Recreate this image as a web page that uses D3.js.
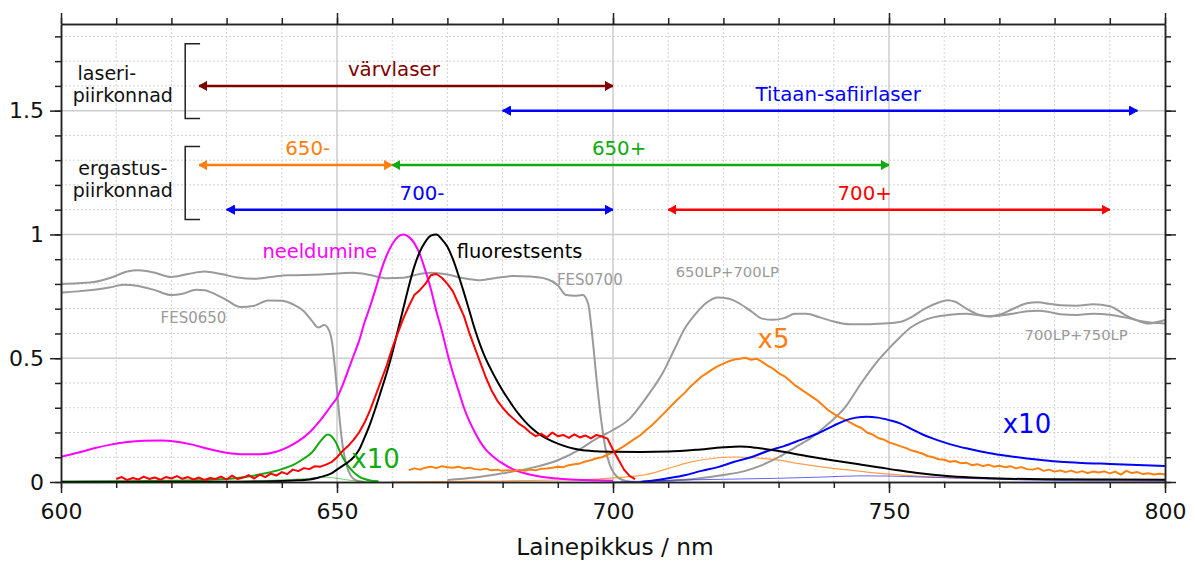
<!DOCTYPE html>
<html>
<head>
<meta charset="utf-8">
<script src="https://cdn.jsdelivr.net/npm/d3@7"></script>
<style>
  body { margin: 0; background: #fff; }
  text { font-family: "DejaVu Sans", sans-serif; }
</style>
</head>
<body>
<svg id="chart" width="1195" height="561"></svg>
<script>
// ---- data: [wavelength nm, value] ----
const fes0700 = [[600,0.8],[603,0.803],[606,0.808],[609,0.825],[612,0.85],[614,0.855],[617,0.845],[620,0.828],[623,0.84],[626,0.85],[629,0.84],[632,0.826],[635,0.821],[638,0.828],[641,0.835],[644,0.836],[647,0.838],[650,0.842],[653,0.845],[656,0.836],[659,0.823],[662,0.825],[665,0.84],[667,0.845],[670,0.838],[673,0.823],[676,0.815],[679,0.825],[682,0.832],[685,0.83],[688,0.82],[690,0.795],[691.5,0.755],[693,0.752],[694.5,0.755],[695.5,0.72],[696.2,0.6],[697,0.42],[697.8,0.26],[698.6,0.14],[699.4,0.07],[700.2,0.035],[701.5,0.01],[703,0.002],[705,0]];
const fes0650 = [[600,0.765],[603,0.77],[606,0.777],[609,0.787],[611.5,0.797],[614,0.792],[617,0.775],[620,0.755],[622,0.76],[624.5,0.777],[626,0.775],[628,0.758],[630,0.735],[632.5,0.707],[635,0.712],[637.5,0.733],[640,0.732],[642,0.718],[644,0.69],[645.5,0.65],[646.6,0.624],[647.7,0.634],[648.6,0.61],[649.2,0.55],[649.8,0.42],[650.4,0.27],[651,0.15],[651.7,0.07],[652.5,0.025],[653.5,0.006],[655,0]];
const lp650_700 = [[670,0.008],[675,0.018],[680,0.035],[685,0.056],[690,0.088],[694,0.132],[697,0.175],[700,0.21],[703,0.255],[706,0.34],[709,0.44],[711,0.53],[713,0.62],[715,0.68],[717,0.725],[719,0.745],[721,0.74],[723,0.72],[725,0.69],[727,0.66],[729,0.655],[731,0.662],[733,0.68],[735,0.68],[737.5,0.665],[740,0.648],[743,0.637],[746,0.637],[749,0.64],[752,0.646],[754,0.665],[756.5,0.7],[759,0.725],[760.5,0.734],[762,0.728],[764,0.7],[766,0.678],[768,0.67],[770,0.676],[772.5,0.7],[775,0.722],[777,0.726],[779,0.72],[781,0.714],[784,0.712],[787,0.718],[790,0.71],[793,0.672],[795,0.652],[797,0.64],[799,0.648],[800,0.655]];
const lp700_750 = [[705,0],[710,0.005],[715,0.013],[720,0.028],[724,0.045],[727,0.068],[730,0.1],[733,0.14],[736,0.18],[739,0.235],[742,0.3],[745,0.4],[748,0.49],[750,0.54],[752,0.585],[754,0.625],[756,0.65],[758,0.665],[761,0.676],[764,0.68],[766,0.675],[768,0.669],[770,0.672],[772.5,0.68],[775,0.69],[777,0.692],[779,0.687],[781,0.678],[784,0.675],[787,0.68],[790,0.676],[793,0.664],[796,0.648],[800,0.64]];

const absorption = [[600,0.102],[603,0.118],[606,0.136],[609,0.151],[612,0.162],[615,0.167],[618,0.168],[621,0.163],[624,0.15],[627,0.132],[630,0.118],[633,0.112],[636,0.112],[639,0.122],[641,0.14],[643,0.165],[645,0.2],[647,0.25],[649,0.31],[650,0.34],[651,0.39],[652,0.45],[653,0.51],[654,0.57],[655,0.645],[656,0.71],[657,0.78],[658,0.855],[659,0.915],[660,0.96],[661,0.99],[662,1.0],[663,0.99],[664,0.965],[665,0.92],[666,0.855],[667,0.78],[668,0.69],[669,0.61],[670,0.52],[671,0.44],[672,0.37],[673,0.3],[674,0.245],[675,0.2],[676,0.16],[677,0.13],[678,0.108],[679,0.09],[680,0.075],[682,0.05],[684,0.035],[686,0.025],[688,0.018],[691,0.012],[695,0.008],[700,0.005]];
const fluorescence = [[600,0],[630,0.001],[638,0.003],[642,0.006],[645,0.01],[647,0.02],[649,0.035],[650,0.05],[651,0.065],[652,0.08],[653,0.1],[654,0.13],[655,0.18],[656,0.235],[657,0.3],[658,0.37],[659,0.44],[660,0.52],[661,0.61],[662,0.7],[663,0.79],[664,0.87],[665,0.93],[666,0.97],[667,0.995],[668,1.0],[669,0.98],[670,0.95],[671,0.9],[672,0.835],[673,0.765],[674,0.69],[675,0.615],[676,0.55],[677,0.495],[678,0.45],[679,0.408],[680,0.37],[681,0.335],[682,0.302],[683,0.272],[684,0.246],[685,0.223],[686,0.204],[687,0.188],[688,0.175],[690,0.155],[692,0.14],[694,0.13],[697,0.124],[700,0.122],[705,0.121],[710,0.123],[715,0.13],[720,0.14],[723,0.143],[726,0.138],[730,0.125],[735,0.105],[740,0.087],[745,0.07],[748,0.06],[752,0.046],[756,0.034],[760,0.025],[765,0.018],[770,0.014],[780,0.011],[790,0.01],[800,0.009]];
const measured = [[610,0.012],[611,0.02],[612,0.008],[613,0.016],[614,0.01],[615,0.022],[616,0.012],[617,0.018],[618,0.009],[619,0.02],[620,0.014],[621,0.024],[622,0.013],[623,0.02],[624,0.01],[625,0.018],[626,0.008],[627,0.016],[628,0.012],[629,0.022],[630,0.01],[631,0.026],[632,0.012],[633,0.018],[634,0.028],[635,0.014],[636,0.03],[637,0.02],[638,0.034],[639,0.026],[640,0.04],[641,0.032],[642,0.05],[643,0.044],[644,0.056],[645,0.052],[646,0.064],[647,0.062],[648,0.07],[649,0.08],[650,0.1],[651,0.125],[652,0.145],[653,0.17],[654,0.2],[655,0.24],[656,0.29],[657,0.35],[658,0.41],[659,0.47],[660,0.54],[661,0.6],[662,0.66],[663,0.71],[664,0.755],[665,0.775],[666,0.8],[667,0.835],[668,0.84],[669,0.825],[670,0.8],[671,0.77],[672,0.72],[673,0.67],[674,0.6],[675,0.54],[676,0.48],[677,0.42],[678,0.37],[679,0.33],[680,0.3],[681,0.275],[682,0.255],[683,0.235],[684,0.22],[685,0.2],[686,0.185],[687,0.195],[688,0.18],[689,0.2],[690,0.185],[691,0.19],[692,0.178],[693,0.192],[694,0.18],[695,0.188],[696,0.176],[697,0.19],[698,0.184],[699,0.175],[700,0.13],[701,0.09],[702,0.05],[703,0.025],[704,0.012]];
const green10 = [[600,0.002],[610,0.003],[620,0.005],[625,0.007],[630,0.012],[634,0.022],[637,0.035],[640,0.052],[642,0.068],[644,0.095],[645.5,0.12],[646.5,0.15],[647.5,0.178],[648.3,0.192],[649,0.185],[649.8,0.16],[650.5,0.125],[651.3,0.09],[652,0.065],[653,0.04],[654,0.022],[655,0.012],[656,0.006],[657.5,0.003]];
const green1 = [[620,0.001],[630,0.003],[638,0.007],[643,0.012],[646,0.016],[648,0.019],[650,0.015],[652,0.008],[654,0.003],[657,0]];
const orange5 = [[663,0.048],[664,0.055],[665,0.05],[666,0.058],[667,0.062],[668,0.056],[669,0.064],[670,0.06],[671,0.058],[672,0.062],[673,0.055],[674,0.058],[675,0.052],[676,0.05],[677,0.054],[678,0.047],[679,0.05],[680,0.045],[681,0.048],[682,0.044],[683,0.049],[684,0.045],[685,0.05],[686,0.047],[687,0.054],[688,0.055],[689,0.058],[690,0.062],[691,0.06],[692,0.068],[693,0.072],[694,0.075],[695,0.083],[696,0.088],[697,0.096],[698,0.1],[699,0.11],[700,0.12],[701,0.132],[702,0.145],[703,0.16],[704,0.175],[705,0.19],[706,0.21],[707,0.228],[708,0.25],[709,0.272],[710,0.295],[711,0.318],[712,0.34],[713,0.36],[714,0.385],[715,0.405],[716,0.425],[717,0.44],[718,0.455],[719,0.468],[720,0.478],[721,0.488],[722,0.495],[723,0.498],[724,0.502],[725,0.494],[726,0.498],[727,0.485],[728,0.47],[729,0.458],[730,0.44],[731,0.428],[732,0.41],[733,0.39],[734,0.375],[735,0.36],[736,0.345],[737,0.33],[738,0.31],[739,0.29],[740,0.275],[741,0.262],[742,0.252],[743,0.24],[744,0.228],[745,0.218],[746,0.2],[747,0.192],[748,0.178],[749,0.172],[750,0.16],[751,0.153],[752,0.145],[753,0.138],[754,0.128],[755,0.122],[756,0.115],[757,0.105],[758,0.1],[759,0.092],[760,0.09],[761,0.082],[762,0.085],[763,0.076],[764,0.078],[765,0.068],[766,0.072],[767,0.064],[768,0.07],[769,0.062],[770,0.066],[771,0.06],[772,0.064],[773,0.055],[774,0.06],[775,0.052],[776,0.05],[777,0.056],[778,0.045],[779,0.05],[780,0.042],[781,0.047],[782,0.04],[783,0.046],[784,0.038],[785,0.044],[786,0.036],[787,0.042],[788,0.038],[789,0.043],[790,0.035],[791,0.042],[792,0.03],[793,0.045],[794,0.036],[795,0.04],[796,0.032],[797,0.035],[798,0.03],[799,0.033],[800,0.03]];
const orange1 = [[660,0],[670,0.002],[680,0.004],[690,0.008],[697,0.012],[702,0.02],[706,0.03],[710,0.055],[714,0.08],[718,0.095],[722,0.101],[726,0.097],[730,0.088],[734,0.073],[738,0.06],[742,0.05],[746,0.04],[750,0.032],[755,0.024],[760,0.019],[770,0.013],[780,0.01],[790,0.008],[800,0.007]];
const blue10 = [[705,0],[707,0.005],[710,0.015],[713,0.027],[716,0.045],[719,0.06],[722,0.082],[725,0.1],[728,0.125],[731,0.145],[734,0.17],[737,0.195],[740,0.228],[742,0.248],[744,0.26],[746,0.264],[748,0.26],[750,0.25],[752,0.237],[754,0.215],[756,0.193],[758,0.175],[760,0.16],[762,0.147],[764,0.136],[766,0.126],[768,0.117],[770,0.11],[772.5,0.102],[775,0.095],[778,0.088],[781,0.082],[785,0.077],[790,0.073],[795,0.069],[800,0.065]];
const blue1 = [[700,0],[705,0.003],[712,0.008],[720,0.011],[730,0.015],[738,0.02],[745,0.025],[750,0.024],[756,0.02],[765,0.014],[775,0.008],[785,0.005],[800,0.003]];

// ranges (arrows): [from nm, to nm, level, label, label centre nm]
const laserRanges = [[625,700,1.6,'värvlaser',660.3],[680,795,1.5,'Titaan-safiirlaser',740.8]];
const excitationRanges = [[625,660,1.28,'650-',644.7],[660,750,1.28,'650+',701.1],[630,700,1.1,'700-',665.4],[710,790,1.1,'700+',745.6]];

const xMajor = [600,650,700,750,800];
const yMajor = [0,0.5,1,1.5];

// ---- layout ----
const svg = d3.select('#chart');
const x = d3.scaleLinear().domain([600,800]).range([61,1165]);
const y = d3.scaleLinear().domain([0,1.85]).range([482,24]);
const xMinor = d3.range(600,801,10);
const yMinor = d3.range(0,1.85,0.1).map(v => +v.toFixed(1));

// grid
const grid = svg.append('g');
grid.selectAll('.vmin').data(xMinor.filter(v => v % 50 !== 0)).join('line')
  .attr('x1', d => x(d)).attr('x2', d => x(d)).attr('y1', y(0)).attr('y2', y(1.85))
  .attr('stroke', '#d4d4d4').attr('stroke-dasharray', '2,2').attr('stroke-width', 1);
grid.selectAll('.hmin').data(yMinor.filter(v => Math.round(v*10) % 5 !== 0)).join('line')
  .attr('x1', x(600)).attr('x2', x(800)).attr('y1', d => y(d)).attr('y2', d => y(d))
  .attr('stroke', '#d4d4d4').attr('stroke-dasharray', '2,2').attr('stroke-width', 1);
grid.selectAll('.vmaj').data([650,700,750]).join('line')
  .attr('x1', d => x(d)).attr('x2', d => x(d)).attr('y1', y(0)).attr('y2', y(1.85))
  .attr('stroke', '#cccccc').attr('stroke-width', 1.5);
grid.selectAll('.hmaj').data([0.5,1,1.5]).join('line')
  .attr('x1', x(600)).attr('x2', x(800)).attr('y1', d => y(d)).attr('y2', d => y(d))
  .attr('stroke', '#cccccc').attr('stroke-width', 1.5);

// curves
svg.append('clipPath').attr('id', 'clip').append('rect')
  .attr('x', x(600)).attr('y', y(1.85)).attr('width', x(800) - x(600)).attr('height', y(0) - y(1.85));
const plot = svg.append('g').attr('clip-path', 'url(#clip)');
const smooth = d3.line().x(d => x(d[0])).y(d => y(d[1])).curve(d3.curveMonotoneX);
const raw = d3.line().x(d => x(d[0])).y(d => y(d[1]));

const series = [
  { data: fes0700, color: '#9a9a9a', w: 2, gen: smooth },
  { data: fes0650, color: '#9a9a9a', w: 2, gen: smooth },
  { data: lp650_700, color: '#9a9a9a', w: 2, gen: smooth },
  { data: lp700_750, color: '#9a9a9a', w: 2, gen: smooth },
  { data: green1, color: '#22aa22', w: 1, gen: smooth, op: 0.6 },
  { data: orange1, color: '#ff7f0e', w: 1.2, gen: smooth, op: 0.75 },
  { data: blue1, color: '#0000ff', w: 1, gen: smooth, op: 0.6 },
  { data: absorption, color: '#ff00ff', w: 2, gen: smooth },
  { data: green10, color: '#11aa11', w: 2, gen: smooth },
  { data: orange5, color: '#ff7f0e', w: 2, gen: raw },
  { data: blue10, color: '#0000ff', w: 2, gen: smooth },
  { data: fluorescence, color: '#000000', w: 2, gen: smooth },
  { data: measured, color: '#ff0000', w: 2, gen: raw },
];
series.forEach(s => {
  plot.append('path').datum(s.data)
    .attr('fill', 'none').attr('stroke', s.color).attr('stroke-width', s.w)
    .attr('stroke-opacity', s.op || 1).attr('stroke-linejoin', 'round')
    .attr('d', s.gen);
});

// axes
const axisColor = '#222';
function styleAxis(g) {
  g.selectAll('path,line').attr('stroke', axisColor).attr('stroke-width', 1.5);
  g.selectAll('text').attr('font-size', 22).attr('fill', '#111').attr('font-family', '"DejaVu Sans", sans-serif');
}
const fmt = d => String(d);
svg.append('g').attr('transform', `translate(0,${y(0)})`)
  .call(d3.axisBottom(x).tickValues(xMinor).tickSize(6).tickSizeOuter(0).tickFormat('')).call(styleAxis);
svg.append('g').attr('transform', `translate(0,${y(0)})`)
  .call(d3.axisBottom(x).tickValues(xMajor).tickSize(11).tickSizeOuter(0).tickPadding(10).tickFormat(fmt)).call(styleAxis);
svg.append('g').attr('transform', `translate(0,${y(1.85)})`)
  .call(d3.axisTop(x).tickValues(xMinor).tickSize(6).tickSizeOuter(0).tickFormat('')).call(styleAxis);
svg.append('g').attr('transform', `translate(0,${y(1.85)})`)
  .call(d3.axisTop(x).tickValues(xMajor).tickSize(11).tickSizeOuter(0).tickFormat('')).call(styleAxis);
svg.append('g').attr('transform', `translate(${x(600)},0)`)
  .call(d3.axisLeft(y).tickValues(yMinor).tickSize(6).tickSizeOuter(0).tickFormat('')).call(styleAxis);
svg.append('g').attr('transform', `translate(${x(600)},0)`)
  .call(d3.axisLeft(y).tickValues(yMajor).tickSize(11).tickSizeOuter(0).tickPadding(6).tickFormat(fmt)).call(styleAxis);
svg.append('g').attr('transform', `translate(${x(800)},0)`)
  .call(d3.axisRight(y).tickValues(yMinor).tickSize(6).tickSizeOuter(0).tickFormat('')).call(styleAxis);
svg.append('g').attr('transform', `translate(${x(800)},0)`)
  .call(d3.axisRight(y).tickValues(yMajor).tickSize(11).tickSizeOuter(0).tickFormat('')).call(styleAxis);

svg.append('text').attr('x', (x(600) + x(800)) / 2 + 2).attr('y', 555)
  .attr('text-anchor', 'middle').attr('font-size', 23.3).attr('fill', '#111')
  .text('Lainepikkus / nm');

// range arrows
const defs = svg.append('defs');
function marker(color) {
  const id = 'arr' + color.replace('#', '');
  if (defs.select('#' + id).empty()) {
    defs.append('marker').attr('id', id).attr('viewBox', '0 -5 9 10')
      .attr('refX', 8).attr('refY', 0).attr('markerUnits', 'userSpaceOnUse')
      .attr('markerWidth', 9).attr('markerHeight', 10).attr('orient', 'auto-start-reverse')
      .append('path').attr('d', 'M0,-4.5L8,0L0,4.5Z')
      .attr('fill', color).attr('stroke', color).attr('stroke-width', 1).attr('stroke-linejoin', 'round');
  }
  return `url(#${id})`;
}
const rangeColors = { 'värvlaser': '#800000', 'Titaan-safiirlaser': '#0000ff', '650-': '#ff7f0e', '650+': '#11aa11', '700-': '#0000ff', '700+': '#ff0000' };
const arrows = svg.append('g');
laserRanges.concat(excitationRanges).forEach(([a, b, lvl, label, mid]) => {
  const c = rangeColors[label];
  arrows.append('line').attr('x1', x(a)).attr('x2', x(b)).attr('y1', y(lvl)).attr('y2', y(lvl))
    .attr('stroke', c).attr('stroke-width', 2.5)
    .attr('marker-start', marker(c)).attr('marker-end', marker(c));
  arrows.append('text').attr('x', x(mid)).attr('y', y(lvl) - 10)
    .attr('text-anchor', 'middle').attr('font-size', 19.8).attr('fill', c).text(label);
});

// brackets and group labels
const brackets = [[1.77, 1.468], [1.355, 1.06]];
brackets.forEach(([top, bot]) => {
  svg.append('path')
    .attr('d', `M${x(625.2)},${y(top)}H${x(622.5)}V${y(bot)}H${x(625.2)}`)
    .attr('fill', 'none').attr('stroke', '#222').attr('stroke-width', 1.5);
});
const groupLabels = [['laseri-', 608.3, 1.624], ['piirkonnad', 611.2, 1.536], ['ergastus-', 611.2, 1.24], ['piirkonnad', 611.2, 1.152]];
svg.selectAll('.grp').data(groupLabels).join('text')
  .attr('x', d => x(d[1])).attr('y', d => y(d[2])).attr('text-anchor', 'middle')
  .attr('font-size', 19).attr('fill', '#111').text(d => d[0]);

// curve labels
const curveLabels = [
  ['neeldumine', 646.9, 0.903, 'middle', 19.4, '#ff00ff'],
  ['fluorestsents', 671.7, 0.903, 'start', 19.4, '#000000'],
  ['FES0650', 624.0, 0.643, 'middle', 15, '#9a9a9a'],
  ['FES0700', 695.8, 0.795, 'middle', 15, '#9a9a9a'],
  ['650LP+700LP', 720.7, 0.829, 'middle', 14.8, '#9a9a9a'],
  ['700LP+750LP', 783.9, 0.573, 'middle', 14.8, '#9a9a9a'],
  ['x10', 652.6, 0.057, 'start', 26, '#11aa11'],
  ['x5', 726.2, 0.541, 'start', 26, '#ff7f0e'],
  ['x10', 770.6, 0.198, 'start', 26, '#0000ff'],
];
svg.selectAll('.clab').data(curveLabels).join('text')
  .attr('x', d => x(d[1])).attr('y', d => y(d[2])).attr('text-anchor', d => d[3])
  .attr('font-size', d => d[4]).attr('fill', d => d[5]).text(d => d[0]);
</script>
</body>
</html>
